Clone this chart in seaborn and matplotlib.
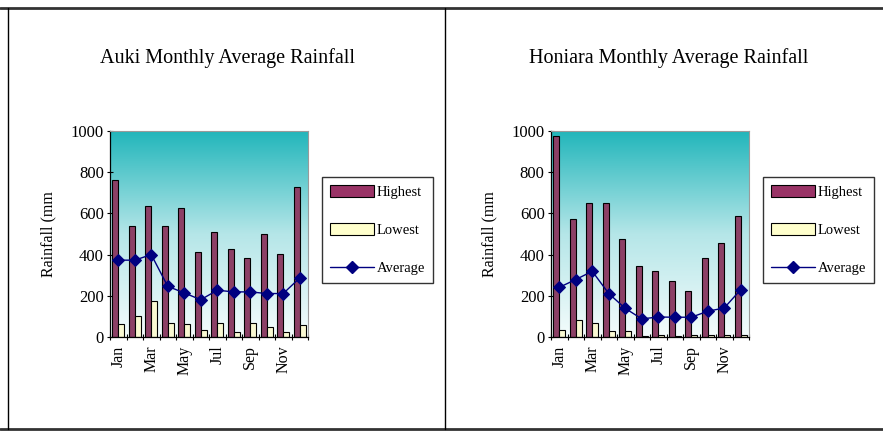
import numpy as np
import pandas as pd
import matplotlib
matplotlib.use("Agg")
import matplotlib.pyplot as plt
import seaborn as sns
from matplotlib.patches import Patch
from matplotlib.lines import Line2D
from matplotlib.colors import LinearSegmentedColormap

# === Data ===
months = ["Jan", "Feb", "Mar", "Apr", "May", "Jun",
          "Jul", "Aug", "Sep", "Oct", "Nov", "Dec"]
month_labels = ["Jan", "", "Mar", "", "May", "", "Jul", "", "Sep", "", "Nov", ""]

auki_highest = [760, 540, 638, 541, 627, 412, 512, 425, 382, 501, 404, 726]
auki_lowest = [65, 100, 175, 68, 65, 36, 68, 25, 68, 48, 25, 58]
auki_average = [373, 373, 400, 246, 214, 181, 227, 219, 219, 211, 211, 287]

honiara_highest = [975, 574, 651, 651, 478, 347, 319, 274, 222, 382, 457, 587]
honiara_lowest = [36, 81, 68, 28, 28, 6, 11, 6, 11, 11, 11, 11]
honiara_average = [241, 279, 319, 211, 139, 88, 97, 96, 96, 125, 141, 230]

series_names = ["Highest", "Lowest", "Average"]

MAROON = "#993366"
PALE = "#FFFFCC"
NAVY = "#000080"

sns.set_style("white")
plt.rcParams["font.family"] = ["Liberation Serif", "DejaVu Serif"]
plt.rcParams["text.color"] = "black"
plt.rcParams["axes.labelcolor"] = "black"
plt.rcParams["xtick.color"] = "black"
plt.rcParams["ytick.color"] = "black"

fig = plt.figure(figsize=(8.83, 4.32), dpi=100)

grad_cmap = LinearSegmentedColormap.from_list(
    "sky", ["#F4FCFC", "#B5E6E8", "#22B6BB"])


def draw_panel(ax, highest, lowest, average):
    long = pd.DataFrame({
        "Month": months * 2,
        "Rainfall": highest + lowest,
        "Series": ["Highest"] * 12 + ["Lowest"] * 12,
    })
    avg = pd.DataFrame({"Month": months, "Average": average})

    grad = np.linspace(0, 1, 256).reshape(-1, 1)
    ax.imshow(grad, extent=[-0.5, 11.5, 0, 1000], aspect="auto",
              origin="lower", cmap=grad_cmap, zorder=0)

    sns.barplot(data=long, x="Month", y="Rainfall", hue="Series",
                order=months, palette=[MAROON, PALE], edgecolor="black",
                linewidth=0.8, width=0.72, gap=0, legend=False, ax=ax,
                zorder=2)
    sns.pointplot(data=avg, x="Month", y="Average", order=months,
                  color=NAVY, markers="D", markersize=6, linewidth=1,
                  ax=ax, zorder=3)

    ax.set_xlim(-0.5, 11.5)
    ax.set_ylim(0, 1000)
    ax.set_yticks(range(0, 1001, 200))
    ax.set_xticks(range(12))
    ax.set_xticklabels(month_labels, rotation=90)
    ax.set_xticks(np.arange(-0.5, 12, 1), minor=True)
    ax.tick_params(axis="x", which="major", length=0, pad=6, labelsize=11.5)
    ax.tick_params(axis="x", which="minor", length=5, width=0.8,
                   direction="inout", color="black")
    ax.tick_params(axis="y", length=5, width=0.8, direction="inout",
                   color="black", labelsize=12, pad=2)
    ax.tick_params(bottom=True, left=True, which="both")
    ax.set_xlabel("")
    ax.set_ylabel("Rainfall (mm", fontsize=11.5, labelpad=10)
    for side in ["left", "bottom"]:
        ax.spines[side].set_color("black")
        ax.spines[side].set_linewidth(0.9)
    for side in ["top", "right"]:
        ax.spines[side].set_color("#9a9a9a")
        ax.spines[side].set_linewidth(0.8)


def add_legend(x_left, y_top):
    handles = [
        Patch(facecolor=MAROON, edgecolor="black", linewidth=0.8),
        Patch(facecolor=PALE, edgecolor="black", linewidth=0.8),
        Line2D([], [], color=NAVY, marker="D", markersize=6, linewidth=1),
    ]
    leg = fig.legend(handles, series_names, loc="upper left",
                     bbox_to_anchor=(x_left, y_top), frameon=True,
                     fancybox=False, edgecolor="black", fontsize=10.5,
                     handlelength=3.0, handleheight=0.9, labelspacing=1.65,
                     handletextpad=0.2, borderpad=0.55, borderaxespad=0)
    leg.get_frame().set_linewidth(1.0)


ax1 = fig.add_axes([110 / 883, 95 / 432, 198 / 883, 206 / 432])
draw_panel(ax1, auki_highest, auki_lowest, auki_average)
ax2 = fig.add_axes([551 / 883, 95 / 432, 198 / 883, 206 / 432])
draw_panel(ax2, honiara_highest, honiara_lowest, honiara_average)

add_legend(322 / 883, 1 - 177 / 432)
add_legend(763 / 883, 1 - 177 / 432)

fig.text(228 / 883, 1 - 58 / 432, "Auki Monthly Average Rainfall",
         ha="center", va="center", fontsize=14.5)
fig.text(669 / 883, 1 - 58 / 432, "Honiara Monthly Average Rainfall",
         ha="center", va="center", fontsize=14.5)

# outer frame and divider
fig.add_artist(Line2D([0, 1], [1 - 8 / 432] * 2, color="#333333", linewidth=2))
fig.add_artist(Line2D([0, 1], [1 - 429 / 432] * 2, color="#333333", linewidth=2))
fig.add_artist(Line2D([8 / 883] * 2, [1 - 8 / 432, 1 - 429 / 432],
                      color="black", linewidth=1))
fig.add_artist(Line2D([445 / 883] * 2, [1 - 8 / 432, 1 - 429 / 432],
                      color="black", linewidth=1))

fig.savefig("out.png", dpi=100)
